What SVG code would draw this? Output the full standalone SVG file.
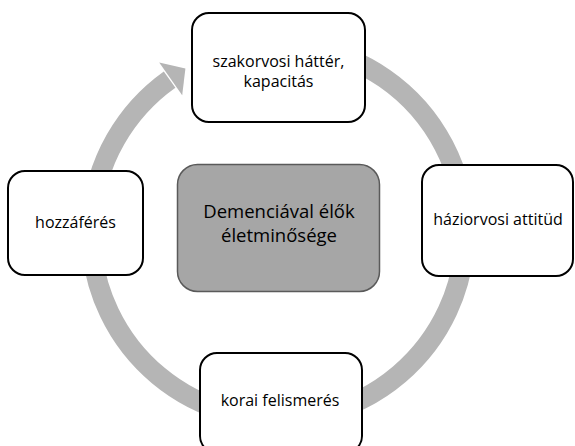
<svg xmlns="http://www.w3.org/2000/svg" width="575" height="446" viewBox="0 0 575 446">
<style>
.node{fill:#ffffff;stroke:#000000;stroke-width:2}
.core{fill:#a6a6a6;stroke:#5a5a5a;stroke-width:1.5}
.lbl{font-family:"Open Sans","Liberation Sans",sans-serif;font-size:16px;fill:#000000;text-anchor:middle}
.big{font-size:18.5px}
.ring{fill:none;stroke:#b5b5b5;stroke-width:20;stroke-linecap:butt}
</style>
<rect width="575" height="446" fill="#ffffff"/>
<g id="connectors">
<path class="ring" d="M 310.5 47.8 A 187 187 0 1 1 169.6 79.6"/>
<polygon points="159.2,62.4 185.4,68.5 182.2,95.2" fill="#b5b5b5"/>
</g>
<g id="center">
<rect class="core" x="177.5" y="164.5" width="202" height="127" rx="20"/>
<text class="lbl big" x="279" y="218">Demenciával élők</text>
<text class="lbl big" x="279" y="242">életminősége</text>
</g>
<g id="node-top">
<rect class="node" x="192" y="13" width="173" height="109" rx="17"/>
<text class="lbl" x="278.5" y="67">szakorvosi háttér,</text>
<text class="lbl" x="278.5" y="87">kapacitás</text>
</g>
<g id="node-right">
<rect class="node" x="422" y="165" width="151" height="111" rx="17"/>
<text class="lbl" x="498" y="225">háziorvosi attitüd</text>
</g>
<g id="node-bottom">
<rect class="node" x="200" y="353" width="162" height="100" rx="17"/>
<text class="lbl" x="280" y="406">korai felismerés</text>
</g>
<g id="node-left">
<rect class="node" x="8" y="171" width="135" height="104" rx="17"/>
<text class="lbl" x="75.5" y="228">hozzáférés</text>
</g>
</svg>
